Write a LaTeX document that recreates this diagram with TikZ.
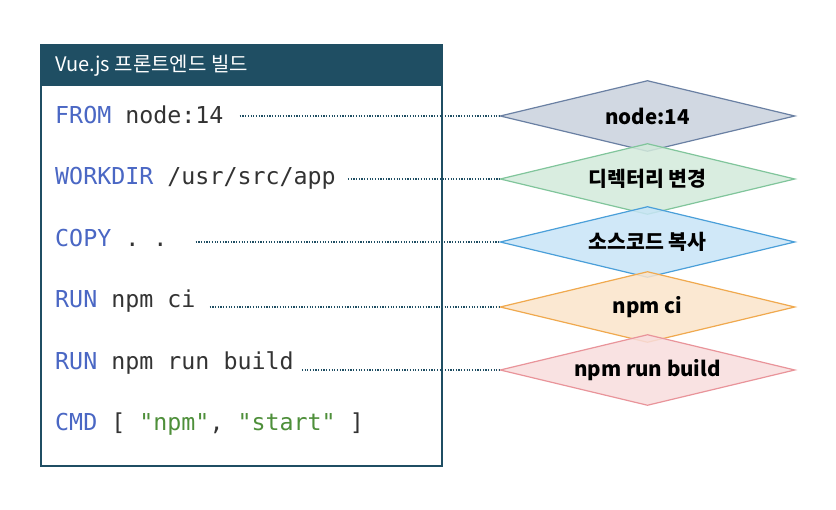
\documentclass[tikz,border=0pt]{standalone}
\usepackage{fontspec}
\setmainfont{Noto Sans CJK KR}
\newfontfamily\kr{Noto Sans CJK KR}
\newfontfamily\codefont{DejaVu Sans Mono}
\usetikzlibrary{shapes.geometric}
\definecolor{teal}{HTML}{1F4E63}
\definecolor{kw}{HTML}{4A67C4}
\definecolor{tx}{HTML}{333333}
\definecolor{str}{HTML}{4E8F3A}
\definecolor{f1}{HTML}{C9D2DD}\definecolor{s1}{HTML}{6A80A3}
\definecolor{f2}{HTML}{D3EADB}\definecolor{s2}{HTML}{80C59B}
\definecolor{f3}{HTML}{C8E5F7}\definecolor{s3}{HTML}{4A9FD9}
\definecolor{f4}{HTML}{FBE4CB}\definecolor{s4}{HTML}{F0A94E}
\definecolor{f5}{HTML}{F8DDDE}\definecolor{s5}{HTML}{E9949A}
\tikzset{
  x=1pt, y=-1pt,
  codeline/.style={anchor=base west, inner sep=0pt, font=\codefont\fontsize{23.3}{26}\selectfont, text=tx},
  layer/.style={diamond, minimum width=295pt, minimum height=71pt, inner sep=0pt, line width=1.2pt, fill opacity=0.85},
  layertext/.style={inner sep=0pt, font=\kr\bfseries\fontsize{20.5}{22}\selectfont, text=black},
  link/.style={draw=teal, line width=1.6pt, dash pattern=on 1.2pt off 1.5pt},
}
\newcommand{\kwd}[1]{\textcolor{kw}{#1}}
\newcommand{\strg}[1]{\textcolor{str}{#1}}
\begin{document}
\begin{tikzpicture}
\useasboundingbox (0,0) rectangle (836,510);
\fill[white] (0,0) rectangle (836,510);
% box
\node[draw=teal, line width=2.2pt, fill=white, minimum width=401pt, minimum height=421pt, anchor=north west, inner sep=0pt] (box) at (40,44) {};
\node[fill=teal, minimum width=401pt, minimum height=42pt, anchor=north west, inner sep=0pt] (hdr) at (40,44) {};
\node[anchor=west, inner sep=0pt, text=white, font=\kr\fontsize{20}{22}\selectfont] (title) at (55,66) {Vue.js 프론트엔드 빌드};
% code lines
\node[codeline] (t1) at (55,124) {\kwd{FROM} node:14};
\node[codeline] (t2) at (55,185) {\kwd{WORKDIR} /usr/src/app};
\node[codeline] (t3) at (55,247) {\kwd{COPY} . .\phantom{x}};
\node[codeline] (t4) at (55,308) {\kwd{RUN} npm ci};
\node[codeline] (t5) at (55,370) {\kwd{RUN} npm run build};
\node[codeline] (t6) at (55,431) {\kwd{CMD} [ \strg{"npm"}, \strg{"start"} ]};
% layers
\node[layer, draw=s1, fill=f1] (d1) at (647.5,116) {};
\node[layer, draw=s2, fill=f2] (d2) at (647.5,179) {};
\node[layer, draw=s3, fill=f3] (d3) at (647.5,242) {};
\node[layer, draw=s4, fill=f4] (d4) at (647.5,307) {};
\node[layer, draw=s5, fill=f5] (d5) at (647.5,370) {};
\node[layertext] (l1) at (d1.center) {node:14};
\node[layertext] (l2) at (d2.center) {디렉터리 변경};
\node[layertext] (l3) at (d3.center) {소스코드 복사};
\node[layertext] (l4) at (d4.center) {npm ci};
\node[layertext] (l5) at (d5.center) {npm run build};
% connectors
\draw[link] ([xshift=16pt]t1.east |- d1.west) -- (d1.west);
\draw[link] ([xshift=12pt]t2.east |- d2.west) -- (d2.west);
\draw[link] ([xshift=14pt]t3.east |- d3.west) -- (d3.west);
\draw[link] ([xshift=14pt]t4.east |- d4.west) -- (d4.west);
\draw[link] ([xshift=8pt]t5.east |- d5.west) -- (d5.west);
\end{tikzpicture}
\end{document}
